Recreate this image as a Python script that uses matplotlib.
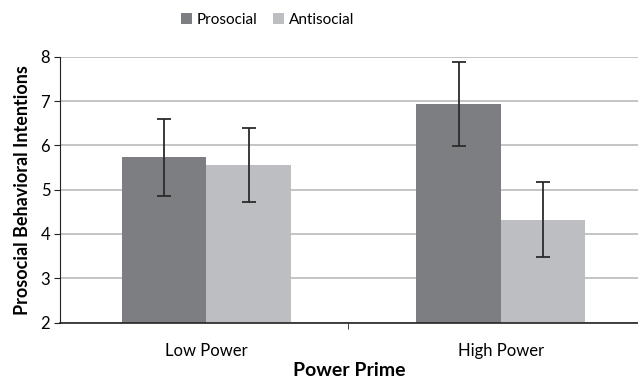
import numpy as np
import matplotlib
matplotlib.use('Agg')
from matplotlib import pyplot as plt

plt.rcParams['font.family'] = ['Lato', 'DejaVu Sans']

categories = ['Low Power', 'High Power']
series = ['Prosocial', 'Antisocial']
prosocial = [5.73, 6.93]
antisocial = [5.56, 4.31]
prosocial_lo = [4.86, 5.98]
prosocial_hi = [6.60, 7.88]
antisocial_lo = [4.73, 3.47]
antisocial_hi = [6.39, 5.17]

colors = ['#7d7e82', '#bdbec2']

fig = plt.figure(figsize=(6.38, 3.79), dpi=100)
ax = fig.add_axes([0.094, 0.149, 0.906, 0.701])

x = np.arange(len(categories))
w = 0.286

vals = [prosocial, antisocial]
lows = [prosocial_lo, antisocial_lo]
highs = [prosocial_hi, antisocial_hi]
for i, name in enumerate(series):
    pos = x + (i - 0.5) * w
    v = np.array(vals[i])
    err = [v - np.array(lows[i]), np.array(highs[i]) - v]
    ax.bar(pos, v - 2, bottom=2, width=w, color=colors[i], label=name, zorder=2)
    ax.errorbar(pos, v, yerr=err, fmt='none', ecolor='#2b2b2b',
                elinewidth=1.3, capsize=5, capthick=1.3, zorder=3)

ax.set_ylim(2, 8)
ax.set_xlim(-0.498, 1.467)
ax.set_yticks(range(2, 9))
ax.yaxis.grid(True, color='#b4b4b4', linewidth=1.1, zorder=0)
ax.set_axisbelow(True)

ax.set_xticks(x)
ax.set_xticklabels(categories, fontsize=12)
ax.tick_params(axis='x', length=0, pad=15)
ax.set_xticks([0.48], minor=True)
ax.tick_params(axis='x', which='minor', length=4, color='#222222')
ax.tick_params(axis='y', labelsize=12, length=4, color='#222222', pad=3)

for s in ['top', 'right']:
    ax.spines[s].set_visible(False)
ax.spines['left'].set_color('#222222')
ax.spines['bottom'].set_color('#222222')
ax.spines['bottom'].set_linewidth(1.2)

ax.set_ylabel('Prosocial Behavioral Intentions', fontsize=13, fontweight='bold', labelpad=7)
ax.set_xlabel('Power Prime', fontsize=14, fontweight='bold', labelpad=2)

fig.legend(loc='center', bbox_to_anchor=(0.419, 0.947), ncol=2, frameon=False,
           fontsize=11, handlelength=0.75, handleheight=0.75, columnspacing=1.0,
           handletextpad=0.3)

plt.savefig('out.png', dpi=100)
